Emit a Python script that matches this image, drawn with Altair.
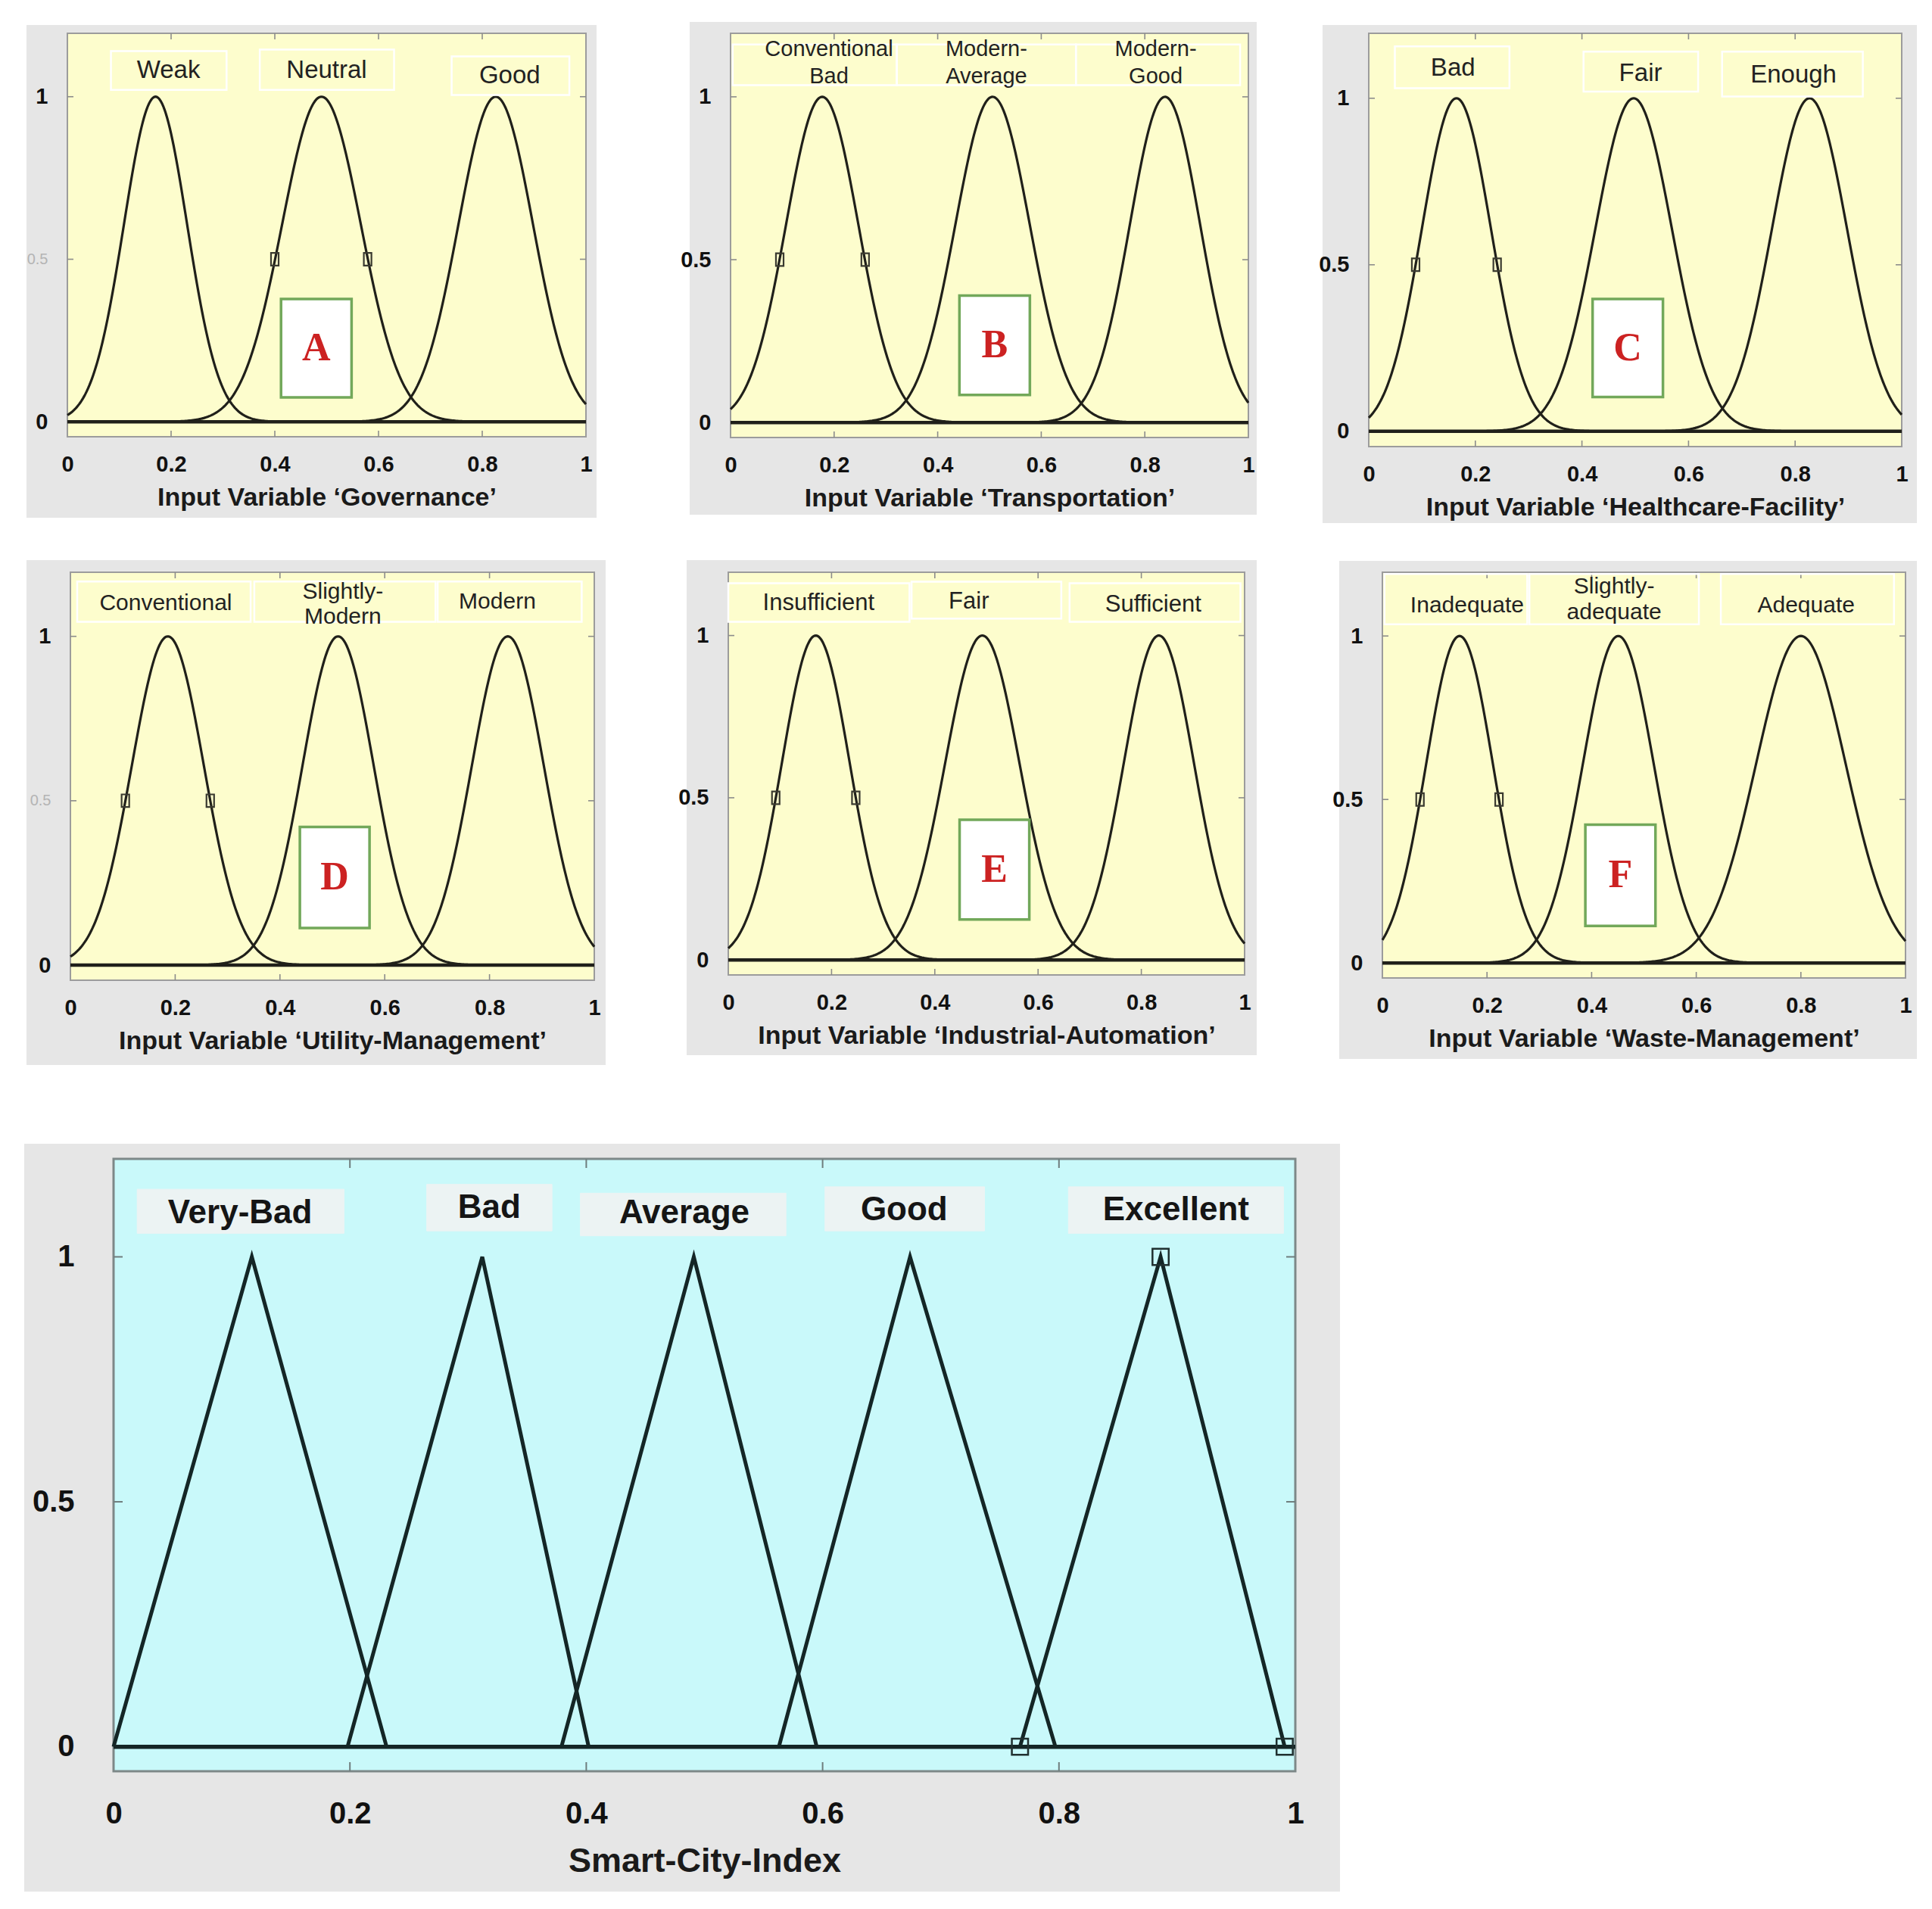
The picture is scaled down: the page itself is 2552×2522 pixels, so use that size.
import altair as alt
import pandas as pd

# ---------------- data ----------------
PANELS = ["A", "B", "C", "D", "E", "F"]
AXIS_TITLES = {
    "A": "Input Variable \u2018Governance\u2019",
    "B": "Input Variable \u2018Transportation\u2019",
    "C": "Input Variable \u2018Healthcare-Facility\u2019",
    "D": "Input Variable \u2018Utility-Management\u2019",
    "E": "Input Variable \u2018Industrial-Automation\u2019",
    "F": "Input Variable \u2018Waste-Management\u2019",
}
MF_NAMES = {
    "A": ["Weak", "Neutral", "Good"],
    "B": ["Conventional-Bad", "Modern-Average", "Modern-Good"],
    "C": ["Bad", "Fair", "Enough"],
    "D": ["Conventional", "Slightly-Modern", "Modern"],
    "E": ["Insufficient", "Fair", "Sufficient"],
    "F": ["Inadequate", "Slightly-adequate", "Adequate"],
}
MF_CENTERS = {
    "A": [0.170, 0.490, 0.826],
    "B": [0.177, 0.506, 0.839],
    "C": [0.1645, 0.497, 0.827],
    "D": [0.186, 0.511, 0.835],
    "E": [0.1695, 0.492, 0.834],
    "F": [0.1475, 0.451, 0.800],
}
MF_SIGMAS = {
    "A": [0.061, 0.076, 0.072],
    "B": [0.070, 0.072, 0.068],
    "C": [0.065, 0.072, 0.0706],
    "D": [0.0688, 0.068, 0.0687],
    "E": [0.0658, 0.072, 0.068],
    "F": [0.064, 0.068, 0.086],
}
# half-membership points marked with small squares
MARKER_X = {
    "A": [0.400, 0.579],
    "B": [0.095, 0.260],
    "C": [0.088, 0.241],
    "D": [0.105, 0.267],
    "E": [0.092, 0.247],
    "F": [0.072, 0.223],
}
MARKER_Y = [0.5, 0.5]
X_TICKS = [0, 0.2, 0.4, 0.6, 0.8, 1]
Y_TICKS = [0, 0.5, 1]

OUT_NAMES = ["Very-Bad", "Bad", "Average", "Good", "Excellent"]
OUT_LEFT = [0.000, 0.198, 0.379, 0.563, 0.767]
OUT_PEAK = [0.117, 0.312, 0.491, 0.674, 0.886]
OUT_RIGHT = [0.231, 0.402, 0.595, 0.797, 0.991]
OUT_MARKER_X = [0.767, 0.886, 0.991]
OUT_MARKER_Y = [0, 1, 0]
OUT_TITLE = "Smart-City-Index"

# ---------------- annotation placement ----------------
LABEL_TEXT = {
    "A": [("Weak", 0.195, 1.08), ("Neutral", 0.50, 1.08), ("Good", 0.853, 1.065)],
    "B": [("Conventional", 0.19, 1.146), ("Bad", 0.19, 1.0625),
          ("Modern-", 0.494, 1.146), ("Average", 0.494, 1.0625),
          ("Modern-", 0.821, 1.146), ("Good", 0.821, 1.0625)],
    "C": [("Bad", 0.158, 1.09), ("Fair", 0.51, 1.075), ("Enough", 0.797, 1.07)],
    "D": [("Conventional", 0.182, 1.10), ("Slightly-", 0.52, 1.136),
          ("Modern", 0.52, 1.06), ("Modern", 0.815, 1.105)],
    "E": [("Insufficient", 0.175, 1.10), ("Fair", 0.466, 1.104), ("Sufficient", 0.823, 1.094)],
    "F": [("Inadequate", 0.162, 1.093), ("Slightly-", 0.443, 1.15),
          ("adequate", 0.443, 1.072), ("Adequate", 0.81, 1.093)],
}
LABEL_FS = {"A": 33, "B": 29, "C": 33, "D": 30, "E": 31, "F": 30}
LABEL_BOXES = {
    "A": [(0.084, 0.307, 1.021, 1.14), (0.371, 0.63, 1.021, 1.145), (0.741, 0.968, 1.005, 1.124)],
    "B": [(0.004, 0.321, 1.036, 1.161), (0.321, 0.667, 1.036, 1.161), (0.667, 0.984, 1.036, 1.161)],
    "C": [(0.049, 0.264, 1.03, 1.156), (0.403, 0.618, 1.02, 1.14), (0.663, 0.927, 1.005, 1.14)],
    "D": [(0.013, 0.344, 1.044, 1.167), (0.351, 0.697, 1.044, 1.167), (0.701, 0.976, 1.044, 1.167)],
    "E": [(0.0, 0.351, 1.042, 1.161), (0.355, 0.645, 1.052, 1.166), (0.661, 0.992, 1.042, 1.161)],
    "F": [(0.004, 0.277, 1.036, 1.19), (0.281, 0.605, 1.036, 1.19), (0.647, 0.978, 1.036, 1.19)],
}
LETTER_BOX = {
    "A": (0.412, 0.548, 0.075, 0.378),
    "B": (0.442, 0.578, 0.085, 0.390),
    "C": (0.420, 0.552, 0.103, 0.397),
    "D": (0.438, 0.571, 0.113, 0.420),
    "E": (0.448, 0.583, 0.125, 0.432),
    "F": (0.388, 0.522, 0.113, 0.423),
}
OUT_LABEL_TEXT = [("Very-Bad", 0.107, 1.088), ("Bad", 0.318, 1.10), ("Average", 0.483, 1.088),
                  ("Good", 0.669, 1.095), ("Excellent", 0.899, 1.095)]
OUT_LABEL_BOXES = [(0.02, 0.195, 1.048, 1.138), (0.265, 0.371, 1.053, 1.148),
                   (0.395, 0.569, 1.043, 1.13), (0.602, 0.737, 1.053, 1.143),
                   (0.808, 0.99, 1.048, 1.143)]

# plot sizes, left inset of the plot inside its view, grey frame extents (l, r, t, b)
SIZE = {"A": (685, 533), "B": (684, 534), "C": (704, 546),
        "D": (692, 539), "E": (682, 532), "F": (691, 536)}
INSET = {"A": 0, "B": 0, "C": 0, "D": 4, "E": 0, "F": 0}
FRAME = {"A": (54, 14, 11, 107), "B": (54, 11, 15, 102), "C": (61, 20, 11, 101),
         "D": (58, 15, 16, 112), "E": (55, 16, 16, 106), "F": (57, 15, 15, 107)}
OUT_SIZE = (1561, 809)
OUT_INSET = 61
OUT_FRAME = (118, 59, 20, 159)

FONT = "Liberation Sans, Arial, sans-serif"
SERIF = "Liberation Serif, Times New Roman, serif"
GREY = "#E6E6E6"
YELLOW = "#FDFDCD"
CYAN = "#C9F9FA"
INK = "#20201a"
GRAY_HALF = {"A", "D"}

ONE = pd.DataFrame({"k": [0]})


def frame_layers(m, w, h, frame, fill, border, bw):
    fl, fr, ft, fb = frame
    grey = alt.Chart(ONE).mark_rect(color=GREY).encode(
        x=alt.value(m - fl), x2=alt.value(m + w + fr), y=alt.value(-ft), y2=alt.value(h + fb))
    area = alt.Chart(ONE).mark_rect(fill=fill, stroke=border, strokeWidth=bw).encode(
        x=alt.value(m), x2=alt.value(m + w), y=alt.value(0), y2=alt.value(h))
    return grey, area


def tick_layers(m, w, h, xs, ys, color, size, sw):
    xt = pd.DataFrame({"t": X_TICKS[1:-1]})
    yt = pd.DataFrame({"t": Y_TICKS})
    top = alt.Chart(xt).mark_rule(color=color, strokeWidth=sw).encode(
        x=alt.X("t:Q", scale=xs), y=alt.value(0), y2=alt.value(size))
    bottom = alt.Chart(xt).mark_rule(color=color, strokeWidth=sw).encode(
        x=alt.X("t:Q", scale=xs), y=alt.value(h - size), y2=alt.value(h))
    left = alt.Chart(yt).mark_rule(color=color, strokeWidth=sw).encode(
        y=alt.Y("t:Q", scale=ys), x=alt.value(m), x2=alt.value(m + size))
    right = alt.Chart(yt).mark_rule(color=color, strokeWidth=sw).encode(
        y=alt.Y("t:Q", scale=ys), x=alt.value(m + w - size), x2=alt.value(m + w))
    return [top, bottom, left, right]


def small_panel(p):
    w, h = SIZE[p]
    m = INSET[p]
    xs = alt.Scale(domain=[0, 1], range=[m, m + w], nice=False, zero=False)
    ys = alt.Scale(domain=[-0.046, 1.195], nice=False, zero=False)
    grey, area = frame_layers(m, w, h, FRAME[p], YELLOW, "#9c9c9c", 2)

    if p in GRAY_HALF:
        lab_color = {"condition": {"test": "datum.value == 0.5", "value": "#b4b4b4"}, "value": "#111111"}
        lab_size = {"condition": {"test": "datum.value == 0.5", "value": 20}, "value": 29}
        lab_weight = {"condition": {"test": "datum.value == 0.5", "value": "normal"}, "value": "bold"}
    else:
        lab_color = "#111111"
        lab_size = 29
        lab_weight = "bold"

    xaxis = alt.Axis(values=X_TICKS, format="~g", title=AXIS_TITLES[p], labelFont=FONT,
                     labelFontSize=29, labelFontWeight="bold", labelColor="#111111",
                     labelPadding=22, labelFlush=False, labelOverlap=False,
                     titleFont=FONT, titleFontSize=34, titleFontWeight="bold",
                     titleColor="#1a1a1a", titlePadding=12, ticks=False, domain=False,
                     grid=False, zindex=1)
    yaxis = alt.Axis(values=Y_TICKS, format="~g", title=None, labelFont=FONT,
                     labelFontSize=lab_size, labelFontWeight=lab_weight, labelColor=lab_color,
                     labelPadding=26, labelFlush=False, labelOverlap=False, ticks=False,
                     domain=False, grid=False, zindex=1, offset=-m)

    mf = pd.DataFrame({"name": MF_NAMES[p], "c": MF_CENTERS[p], "s": MF_SIGMAS[p]})
    curves = alt.Chart(mf).transform_calculate(
        x="sequence(0, 1.0005, 0.0025)"
    ).transform_flatten(["x"]).transform_calculate(
        y="exp(-pow(datum.x - datum.c, 2) / (2 * datum.s * datum.s))"
    ).mark_line(color=INK, strokeWidth=3.2).encode(
        x=alt.X("x:Q", scale=xs, axis=xaxis),
        y=alt.Y("y:Q", scale=ys, axis=yaxis),
        detail="name:N",
    )

    base = alt.Chart(ONE).mark_rule(color=INK, strokeWidth=4.5).encode(
        y=alt.Y(datum=0, type="quantitative", scale=ys),
        x=alt.value(m), x2=alt.value(m + w))

    bx = pd.DataFrame(LABEL_BOXES[p], columns=["x1", "x2", "y1", "y2"])
    boxes = alt.Chart(bx).mark_rect(fillOpacity=0, stroke="white", strokeWidth=2.5).encode(
        x=alt.X("x1:Q", scale=xs), x2="x2:Q",
        y=alt.Y("y1:Q", scale=ys), y2="y2:Q")

    lb = LETTER_BOX[p]
    lbd = pd.DataFrame({"x1": [lb[0]], "x2": [lb[1]], "y1": [lb[2]], "y2": [lb[3]],
                        "xm": [(lb[0] + lb[1]) / 2], "ym": [(lb[2] + lb[3]) / 2], "t": [p]})
    letter_box = alt.Chart(lbd).mark_rect(fill="white", stroke="#72a85a", strokeWidth=3.5).encode(
        x=alt.X("x1:Q", scale=xs), x2="x2:Q",
        y=alt.Y("y1:Q", scale=ys), y2="y2:Q")
    letter = alt.Chart(lbd).mark_text(font=SERIF, fontSize=52, fontWeight="bold",
                                      color="#cc2222", baseline="middle").encode(
        x=alt.X("xm:Q", scale=xs), y=alt.Y("ym:Q", scale=ys), text="t:N")

    mk = pd.DataFrame({"x": MARKER_X[p], "y": MARKER_Y})
    markers = alt.Chart(mk).mark_point(shape="M-0.6,-1H0.6V1H-0.6Z", filled=False, size=280,
                                       stroke="#3a3a30", strokeWidth=2.2, opacity=1).encode(
        x=alt.X("x:Q", scale=xs), y=alt.Y("y:Q", scale=ys))

    lt = pd.DataFrame(LABEL_TEXT[p], columns=["t", "x", "y"])
    labels = alt.Chart(lt).mark_text(font=FONT, fontSize=LABEL_FS[p], color="#222222",
                                     baseline="middle").encode(
        x=alt.X("x:Q", scale=xs), y=alt.Y("y:Q", scale=ys), text="t:N")

    ticks = tick_layers(m, w, h, xs, ys, "#8c8c8c", 8, 1.6)
    return alt.layer(grey, area, curves, *ticks, base, boxes, letter_box, letter, markers,
                     labels).properties(width=m + w, height=h)


def output_panel():
    w, h = OUT_SIZE
    m = OUT_INSET
    xs = alt.Scale(domain=[0, 1], range=[m, m + w], nice=False, zero=False)
    ys = alt.Scale(domain=[-0.05, 1.2], nice=False, zero=False)
    grey, area = frame_layers(m, w, h, OUT_FRAME, CYAN, "#7d8888", 3)

    xaxis = alt.Axis(values=X_TICKS, format="~g", title=OUT_TITLE, labelFont=FONT,
                     labelFontSize=40, labelFontWeight="bold", labelColor="#111111",
                     labelPadding=36, labelFlush=False, labelOverlap=False,
                     titleFont=FONT, titleFontSize=45, titleFontWeight="bold",
                     titleColor="#1a1a1a", titlePadding=20, ticks=False, domain=False,
                     grid=False, zindex=1)
    yaxis = alt.Axis(values=Y_TICKS, format="~g", title=None, labelFont=FONT,
                     labelFontSize=40, labelFontWeight="bold", labelColor="#111111",
                     labelPadding=52, labelFlush=False, labelOverlap=False, ticks=False,
                     domain=False, grid=False, zindex=1, offset=-m)

    rows = []
    for n, a, b, c in zip(OUT_NAMES, OUT_LEFT, OUT_PEAK, OUT_RIGHT):
        rows += [{"name": n, "x": a, "y": 0, "o": 0},
                 {"name": n, "x": b, "y": 1, "o": 1},
                 {"name": n, "x": c, "y": 0, "o": 2}]
    tri = pd.DataFrame(rows)

    lines = alt.Chart(tri).mark_line(color="#142626", strokeWidth=5).encode(
        x=alt.X("x:Q", scale=xs, axis=xaxis),
        y=alt.Y("y:Q", scale=ys, axis=yaxis),
        detail="name:N",
        order="o:Q",
    )

    bx = pd.DataFrame(OUT_LABEL_BOXES, columns=["x1", "x2", "y1", "y2"])
    boxes = alt.Chart(bx).mark_rect(fill="#ECF3F3", stroke="#ECF3F3", strokeWidth=1).encode(
        x=alt.X("x1:Q", scale=xs), x2="x2:Q",
        y=alt.Y("y1:Q", scale=ys), y2="y2:Q")

    base = alt.Chart(ONE).mark_rule(color="#142626", strokeWidth=5.5).encode(
        y=alt.Y(datum=0, type="quantitative", scale=ys),
        x=alt.value(m), x2=alt.value(m + w))

    mk = pd.DataFrame({"x": OUT_MARKER_X, "y": OUT_MARKER_Y})
    markers = alt.Chart(mk).mark_point(shape="square", filled=False, size=460,
                                       stroke="#203030", strokeWidth=2.5, opacity=1).encode(
        x=alt.X("x:Q", scale=xs), y=alt.Y("y:Q", scale=ys))

    lt = pd.DataFrame(OUT_LABEL_TEXT, columns=["t", "x", "y"])
    labels = alt.Chart(lt).mark_text(font=FONT, fontSize=44, fontWeight="bold",
                                     color="#151515", baseline="middle").encode(
        x=alt.X("x:Q", scale=xs), y=alt.Y("y:Q", scale=ys), text="t:N")

    ticks = tick_layers(m, w, h, xs, ys, "#6f7d7d", 12, 2)
    return alt.layer(grey, area, lines, *ticks, boxes, base, markers, labels).properties(
        width=m + w, height=h)


pa, pb, pc, pd_, pe, pf = [small_panel(p) for p in PANELS]
row1 = alt.hconcat(pa, alt.hconcat(pb, pc, spacing=81), spacing=110)
row2 = alt.hconcat(pd_, alt.hconcat(pe, pf, spacing=99), spacing=95)
top_rows = alt.concat(row1, row2, columns=1, spacing=49, align="none")
chart = alt.concat(top_rows, output_panel(), columns=1, spacing=104, align="none").properties(
    padding={"left": 24, "top": 21, "right": 5, "bottom": 5},
    background="white",
).configure_view(strokeWidth=0)

chart.save("out.html", embed_options={"renderer": "svg", "actions": False})
